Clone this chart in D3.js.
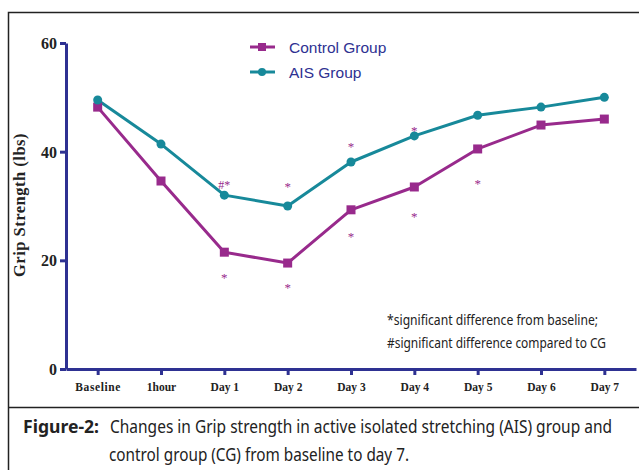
<!DOCTYPE html>
<html>
<head>
<meta charset="utf-8">
<script src="https://cdn.jsdelivr.net/npm/d3@7"></script>
<style>
  body { margin: 0; background: #fff; }
  svg { display: block; }
</style>
</head>
<body>
<svg id="chart" width="639" height="470"></svg>
<script>
// chart data
const categories = ['Baseline', '1hour', 'Day 1', 'Day 2', 'Day 3', 'Day 4', 'Day 5', 'Day 6', 'Day 7'];
const controlGroup = [48.2, 34.6, 21.5, 19.5, 29.3, 33.5, 40.5, 44.9, 46.0];
const aisGroup = [49.5, 41.4, 32.0, 30.0, 38.1, 42.9, 46.7, 48.2, 50.0];
const yTicks = [0, 20, 40, 60];
// significance marks: [category, value, label]
const marks = [
    ['Day 1', 34.4, '#*'], ['Day 1', 17.5, '*'],
    ['Day 2', 34.2, '*'], ['Day 2', 15.6, '*'],
    ['Day 3', 41.6, '*'], ['Day 3', 25.0, '*'],
    ['Day 4', 44.5, '*'], ['Day 4', 28.7, '*'],
    ['Day 5', 34.8, '*']
];
const notes = ['*significant difference from baseline;', '#significant difference compared to CG'];

const purple = '#982a8c';
const teal = '#17899a';
const navy = '#2e3192';
const condensed = '"Noto Sans", "DejaVu Sans", sans-serif';

const svg = d3.select('#chart');
const margin = {top: 43, left: 66, right: 3, bottom: 101};
const width = 639, height = 470;

// frame lines
svg.append('path')
    .attr('d', 'M8.5,470V12.5H639')
    .attr('fill', 'none').attr('stroke', '#222').attr('stroke-width', 1.5);
svg.append('line')
    .attr('x1', 8).attr('x2', 639).attr('y1', 407.5).attr('y2', 407.5)
    .attr('stroke', '#222').attr('stroke-width', 1.5);

const x = d3.scalePoint()
    .domain(categories)
    .range([margin.left, width - margin.right])
    .padding(0.5);
const y = d3.scaleLinear()
    .domain([0, 60])
    .range([height - margin.bottom, margin.top]);

// axes
const xAxis = svg.append('g')
    .attr('transform', 'translate(0,' + y(0) + ')')
    .call(d3.axisBottom(x).tickSize(6).tickSizeOuter(0).tickPadding(8));
const yAxis = svg.append('g')
    .attr('transform', 'translate(' + margin.left + ',0)')
    .call(d3.axisLeft(y).tickValues(yTicks).tickSize(6).tickSizeOuter(0).tickPadding(3));

[xAxis, yAxis].forEach(function(g){
    g.select('.domain').attr('stroke', navy).attr('stroke-width', 3);
    g.selectAll('.tick line').attr('stroke', navy).attr('stroke-width', 3);
    g.selectAll('.tick text')
        .attr('fill', '#222')
        .attr('font-family', '"Liberation Serif", "Times New Roman", serif')
        .attr('font-weight', 'bold');
});
xAxis.selectAll('.tick text').attr('font-size', 11.5);
xAxis.selectAll('.tick text').filter(d => d === 'Baseline').attr('letter-spacing', 0.6);
yAxis.selectAll('.tick text').attr('font-size', 16).attr('dy', '0.35em');

svg.append('text')
    .attr('transform', 'translate(25,205) rotate(-90)')
    .attr('text-anchor', 'middle')
    .attr('font-family', '"Liberation Serif", "Times New Roman", serif')
    .attr('font-weight', 'bold')
    .attr('font-size', 16.5)
    .attr('letter-spacing', 0.5)
    .attr('fill', '#222')
    .text('Grip Strength (lbs)');

// lines
const line = d3.line()
    .x((d, i) => x(categories[i]))
    .y(d => y(d));

svg.append('path').datum(controlGroup)
    .attr('d', line).attr('fill', 'none')
    .attr('stroke', purple).attr('stroke-width', 3).attr('stroke-linejoin', 'round');
svg.append('path').datum(aisGroup)
    .attr('d', line).attr('fill', 'none')
    .attr('stroke', teal).attr('stroke-width', 3).attr('stroke-linejoin', 'round');

svg.append('g').selectAll('rect')
    .data(controlGroup).enter().append('rect')
    .attr('x', (d, i) => x(categories[i]) - 4.5)
    .attr('y', d => y(d) - 4.5)
    .attr('width', 9).attr('height', 9)
    .attr('fill', purple);
svg.append('g').selectAll('circle')
    .data(aisGroup).enter().append('circle')
    .attr('cx', (d, i) => x(categories[i]))
    .attr('cy', d => y(d))
    .attr('r', 4.5)
    .attr('fill', teal);

// significance marks
svg.append('g').selectAll('text')
    .data(marks).enter().append('text')
    .attr('x', d => x(d[0]))
    .attr('y', d => y(d[1]))
    .attr('dy', '0.6em')
    .attr('text-anchor', 'middle')
    .attr('font-family', '"Liberation Serif", serif')
    .attr('font-size', d => d[2] === '#*' ? 12 : 13)
    .attr('fill', purple)
    .text(d => d[2]);

// legend
const legend = svg.append('g');
const legendItems = [['Control Group', purple, 'square'], ['AIS Group', teal, 'circle']];
legendItems.forEach(function(item, i){
    const ly = 47 + i * 25;
    legend.append('line')
        .attr('x1', 250).attr('x2', 275).attr('y1', ly).attr('y2', ly)
        .attr('stroke', item[1]).attr('stroke-width', 3);
    if(item[2] === 'square'){
        legend.append('rect').attr('x', 258).attr('y', ly - 4).attr('width', 8).attr('height', 8).attr('fill', item[1]);
    } else {
        legend.append('circle').attr('cx', 262).attr('cy', ly).attr('r', 4).attr('fill', item[1]);
    }
    legend.append('text')
        .attr('x', 289).attr('y', ly).attr('dy', '0.36em')
        .attr('font-family', '"Liberation Sans", Arial, sans-serif')
        .attr('font-size', 15.5)
        .attr('fill', navy)
        .text(item[0]);
});

// notes (condensed face squeezed to the width seen in the figure)
const noteWidths = [211, 219];
svg.append('g').selectAll('text')
    .data(notes).enter().append('text')
    .attr('x', 387)
    .attr('y', (d, i) => 325 + i * 23)
    .attr('font-family', condensed)
    .attr('font-size', 14)
    .attr('textLength', (d, i) => noteWidths[i])
    .attr('lengthAdjust', 'spacingAndGlyphs')
    .attr('fill', '#222')
    .text(d => d);

// caption
const captionText = svg.append('g')
    .attr('font-family', condensed)
    .attr('font-size', 17.5)
    .attr('fill', '#222');
captionText.append('text')
    .attr('x', 23).attr('y', 433)
    .attr('font-weight', 'bold')
    .attr('textLength', 76).attr('lengthAdjust', 'spacingAndGlyphs')
    .text('Figure-2:');
captionText.append('text')
    .attr('x', 110).attr('y', 433)
    .attr('textLength', 502).attr('lengthAdjust', 'spacingAndGlyphs')
    .text('Changes in Grip strength in active isolated stretching (AIS) group and');
captionText.append('text')
    .attr('x', 109).attr('y', 461)
    .attr('textLength', 300).attr('lengthAdjust', 'spacingAndGlyphs')
    .text('control group (CG) from baseline to day 7.');
</script>
</body>
</html>
